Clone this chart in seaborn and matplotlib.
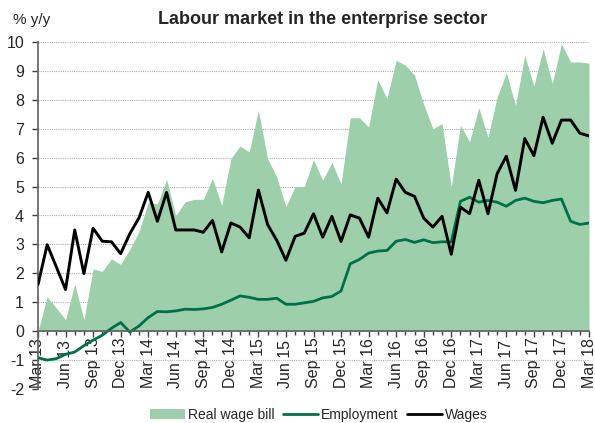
import pandas as pd
import numpy as np
import matplotlib
matplotlib.use('Agg')
import matplotlib.pyplot as plt
import seaborn as sns
from matplotlib.patches import Patch
from matplotlib.lines import Line2D

sns.set_style('ticks')
plt.rcParams['font.family'] = ['Liberation Sans', 'DejaVu Sans']
plt.rcParams['axes.unicode_minus'] = False

# Monthly y/y changes, Mar 2013 - Mar 2018
months = pd.date_range('2013-03-01', periods=61, freq='MS')

real_wage_bill = [0.00, 1.19, 0.80, 0.40, 1.62, 0.40, 2.15, 2.07, 2.50, 2.31,
                  2.83, 3.45, 4.45, 4.40, 5.25, 4.00, 4.47, 4.56, 4.56, 5.28,
                  4.35, 5.97, 6.40, 6.20, 7.64, 5.97, 5.33, 4.30, 5.00, 5.00,
                  5.93, 5.22, 5.83, 5.10, 7.38, 7.38, 7.06, 8.70, 8.04, 9.37,
                  9.20, 8.85, 7.85, 7.00, 7.18, 5.00, 7.12, 6.55, 7.73, 6.70,
                  8.10, 8.93, 7.81, 9.54, 8.47, 9.77, 8.56, 9.94, 9.31, 9.31, 9.27]

employment = [-0.92, -1.00, -0.95, -0.80, -0.72, -0.50, -0.31, -0.14, 0.10, 0.30,
              -0.03, 0.18, 0.47, 0.68, 0.67, 0.70, 0.76, 0.75, 0.77, 0.82,
              0.93, 1.07, 1.22, 1.17, 1.10, 1.10, 1.14, 0.93, 0.93, 0.98,
              1.03, 1.15, 1.20, 1.39, 2.33, 2.48, 2.70, 2.77, 2.79, 3.11,
              3.17, 3.07, 3.16, 3.06, 3.09, 3.09, 4.49, 4.63, 4.46, 4.52,
              4.46, 4.32, 4.52, 4.60, 4.49, 4.44, 4.52, 4.57, 3.80, 3.69, 3.74]

wages = [1.61, 2.99, 2.22, 1.44, 3.50, 1.99, 3.56, 3.11, 3.09, 2.68,
         3.37, 3.92, 4.80, 3.80, 4.80, 3.50, 3.50, 3.50, 3.42, 3.83,
         2.74, 3.74, 3.60, 3.23, 4.88, 3.69, 3.14, 2.45, 3.28, 3.39,
         4.06, 3.25, 3.97, 3.10, 4.02, 3.91, 3.25, 4.60, 4.09, 5.26,
         4.80, 4.66, 3.91, 3.60, 3.97, 2.66, 4.29, 4.06, 5.22, 4.06,
         5.45, 6.05, 4.87, 6.66, 6.07, 7.40, 6.50, 7.30, 7.30, 6.85, 6.75]

tick_labels = [m.strftime('%b %y') for m in months]

df = pd.DataFrame({'t': np.arange(len(months)),
                   'Real wage bill': real_wage_bill,
                   'Employment': employment,
                   'Wages': wages})

area_color = '#9dd0aa'
emp_color = '#00704a'
wage_color = '#000000'

fig = plt.figure(figsize=(5.95, 4.23), dpi=100)
ax = fig.add_axes([38 / 595, 34 / 423, 551 / 595, 347 / 423])

ax.fill_between(df['t'], 0, df['Real wage bill'], color=area_color, linewidth=0, zorder=2)
sns.lineplot(data=df, x='t', y='Employment', color=emp_color, linewidth=2, ax=ax, zorder=3)
sns.lineplot(data=df, x='t', y='Wages', color=wage_color, linewidth=2.1, ax=ax, zorder=4)

ax.set_xlim(0, len(months) - 1)
ax.set_ylim(-2, 10)
ax.set_yticks(range(-2, 11))
ax.grid(axis='y', color='#b0b0b0', linestyle=(0, (1, 1)), linewidth=0.8, zorder=0)

ax.spines['bottom'].set_position(('data', 0))
ax.spines['bottom'].set_zorder(5)
for s in ['top', 'right']:
    ax.spines[s].set_visible(False)
for s in ['left', 'bottom']:
    ax.spines[s].set_color('#606060')
    ax.spines[s].set_linewidth(1.2)

ax.tick_params(axis='x', which='major', length=4, width=1, color='#404040', pad=37,
               labelsize=11.5, labelrotation=90)
ax.tick_params(axis='x', which='minor', length=3, width=1, color='#404040')
ax.tick_params(axis='y', length=4, width=1, color='#404040', pad=6, labelsize=11.5)

ax.set_xticks(df['t'][::3].tolist())
ax.set_xticks(df['t'].tolist(), minor=True)
ax.set_xticklabels(tick_labels[::3])
for lab in ax.get_xticklabels():
    lab.set_rotation(90)
    lab.set_verticalalignment('bottom')
    lab.set_horizontalalignment('center')
ax.set_xlabel('')
ax.set_ylabel('')

fig.text(13 / 595, 1 - 20 / 423, '% y/y', fontsize=11, va='center', ha='left')
fig.text(323 / 595, 1 - 19 / 423, 'Labour market in the enterprise sector',
         fontsize=13, fontweight='bold', va='center', ha='center')

handles = [Patch(facecolor=area_color, edgecolor='none'),
           Line2D([], [], color=emp_color, linewidth=2),
           Line2D([], [], color=wage_color, linewidth=2)]
fig.legend(handles, ['Real wage bill', 'Employment', 'Wages'], loc='center',
           bbox_to_anchor=(319 / 595, 8 / 423), ncol=3, frameon=False, fontsize=10,
           handlelength=2.5, handletextpad=0.25, columnspacing=0.6, borderpad=0)

fig.savefig('out.png', dpi=100)
